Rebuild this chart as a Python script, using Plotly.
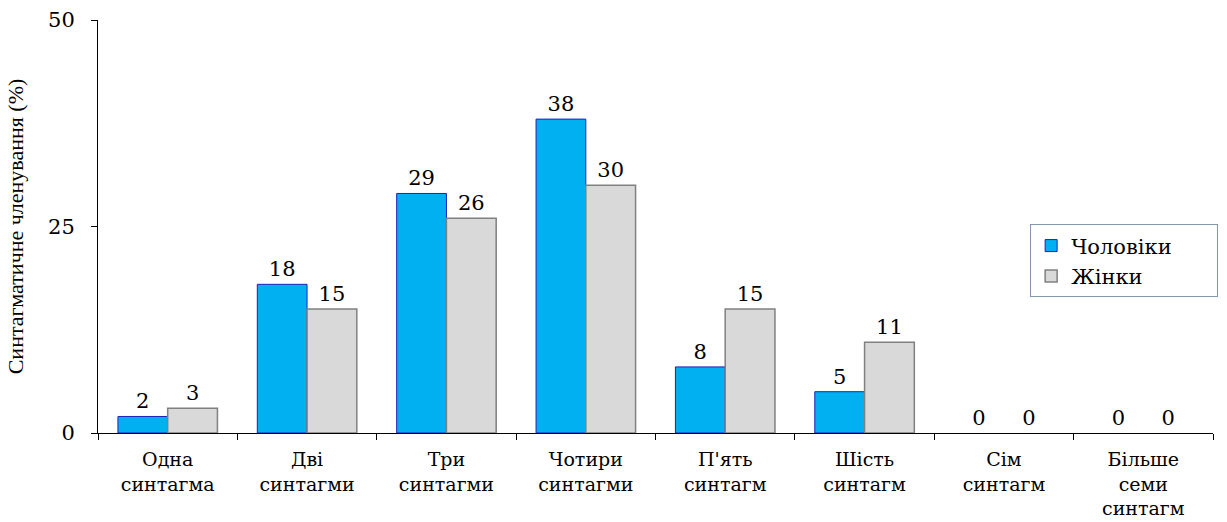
import plotly.graph_objects as go

categories = ["Одна<br>синтагма", "Дві<br>синтагми", "Три<br>синтагми", "Чотири<br>синтагми",
              "П'ять<br>синтагм", "Шість<br>синтагм", "Сім<br>синтагм", "Більше<br>семи<br>синтагм"]
men = [2, 18, 29, 38, 8, 5, 0, 0]
women = [3, 15, 26, 30, 15, 11, 0, 0]
series_names = ["Чоловіки", "Жінки"]
y_ticks = [0, 25, 50]

WIDE = "DejaVu Serif"
TIMES = "Liberation Serif"
PAD = "\u00a0" * 6  # widen legend box like the reference

fig = go.Figure()
fig.add_trace(go.Bar(
    x=categories, y=men, name=series_names[0] + PAD,
    marker=dict(color="#00B0F0",
                line=dict(color="#1F1FBF", width=[1 if v > 0 else 0 for v in men])),
    text=[str(v) for v in men], textposition="outside",
    textfont=dict(family=WIDE, size=21, color="black"), cliponaxis=False,
))
fig.add_trace(go.Bar(
    x=categories, y=women, name=series_names[1],
    marker=dict(color="#D9D9D9",
                line=dict(color="#808080", width=[1.5 if v > 0 else 0 for v in women])),
    text=[str(v) for v in women], textposition="outside",
    textfont=dict(family=WIDE, size=21, color="black"), cliponaxis=False,
))

fig.update_layout(
    width=1227, height=522,
    margin=dict(l=98, r=9, t=20, b=89),
    paper_bgcolor="white", plot_bgcolor="white",
    barmode="group", bargap=0.286, bargroupgap=0,
    font=dict(family=WIDE, size=20, color="black"),
    showlegend=True,
    legend=dict(x=0.836, y=0.505, xanchor="left", yanchor="top",
                bordercolor="#8497B0", borderwidth=1,
                font=dict(family=WIDE, size=21, color="black"),
                itemwidth=30, tracegroupgap=0),
    xaxis=dict(showline=True, linecolor="black", linewidth=1, automargin=False,
               ticks="outside", tickson="boundaries", ticklen=6, tickcolor="black",
               showgrid=False, ticklabelstandoff=9, tickfont=dict(family=WIDE, size=19)),
    yaxis=dict(range=[0, 50], tickvals=y_ticks, showline=True, linecolor="black",
               linewidth=1, ticks="outside", ticklen=6, tickcolor="black",
               showgrid=False, zeroline=False, automargin=False, ticklabelstandoff=12,
               tickfont=dict(family=WIDE, size=21),
               title=dict(text="Синтагматичне членування (%)",
                          font=dict(family=TIMES, size=22), standoff=18)),
)

fig.write_html("out.html")
